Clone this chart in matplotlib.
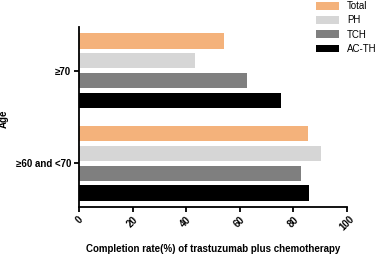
import matplotlib
matplotlib.use("Agg")
import matplotlib.pyplot as plt
import numpy as np
from matplotlib.patches import Patch

plt.rcParams['font.family'] = ['Liberation Sans', 'DejaVu Sans']

groups = ["≥70", "≥60 and <70"]
series = ["Total", "PH", "TCH", "AC-TH"]
values = {
    "Total": [54.1, 85.4],
    "PH": [43.2, 90.5],
    "TCH": [62.9, 83.1],
    "AC-TH": [75.5, 85.8],
}
colors = ["#F4B27B", "#D6D6D6", "#7F7F7F", "#000000"]
xticks = [0, 20, 40, 60, 80, 100]

fig = plt.figure(figsize=(3.76, 2.54), dpi=100)
ax = fig.add_axes([0.210, 0.186, 0.712, 0.709])

group_step = 4.68
centers = np.arange(len(groups)) * group_step
for k, (s, c) in enumerate(zip(series, colors)):
    ax.barh(centers + (k - 1.5), values[s], height=0.77, color=c, edgecolor='none')

ax.set_ylim(centers[-1] + 1.5 + 0.69, centers[0] - 1.5 - 0.72)
ax.set_xlim(0, 100)
ax.set_yticks(centers)
ax.set_yticklabels(groups, fontsize=7, fontweight='bold')
ax.set_xticks(xticks)
ax.set_xticklabels([str(t) for t in xticks], fontsize=7, fontweight='bold', rotation=45,
                   ha='center', va='top')
for sp in ['top', 'right']:
    ax.spines[sp].set_visible(False)
for sp in ['left', 'bottom']:
    ax.spines[sp].set_linewidth(1.3)
ax.tick_params(axis='both', width=1.3, length=3.5, pad=2)
ax.set_xlabel("Completion rate(%) of trastuzumab plus chemotherapy", fontsize=7,
              fontweight='bold', labelpad=8)
ax.set_ylabel("Age", fontsize=7, fontweight='bold')
ax.yaxis.set_label_coords(-0.262, 0.49)

handles = [Patch(facecolor=c, edgecolor='none') for c in colors]
fig.legend(handles, series, loc='upper left', bbox_to_anchor=(0.83, 1.01), frameon=False,
           fontsize=7, handlelength=2.4, handleheight=0.8, labelspacing=0.42,
           handletextpad=0.8, borderaxespad=0)

fig.savefig("out.png", dpi=100)
